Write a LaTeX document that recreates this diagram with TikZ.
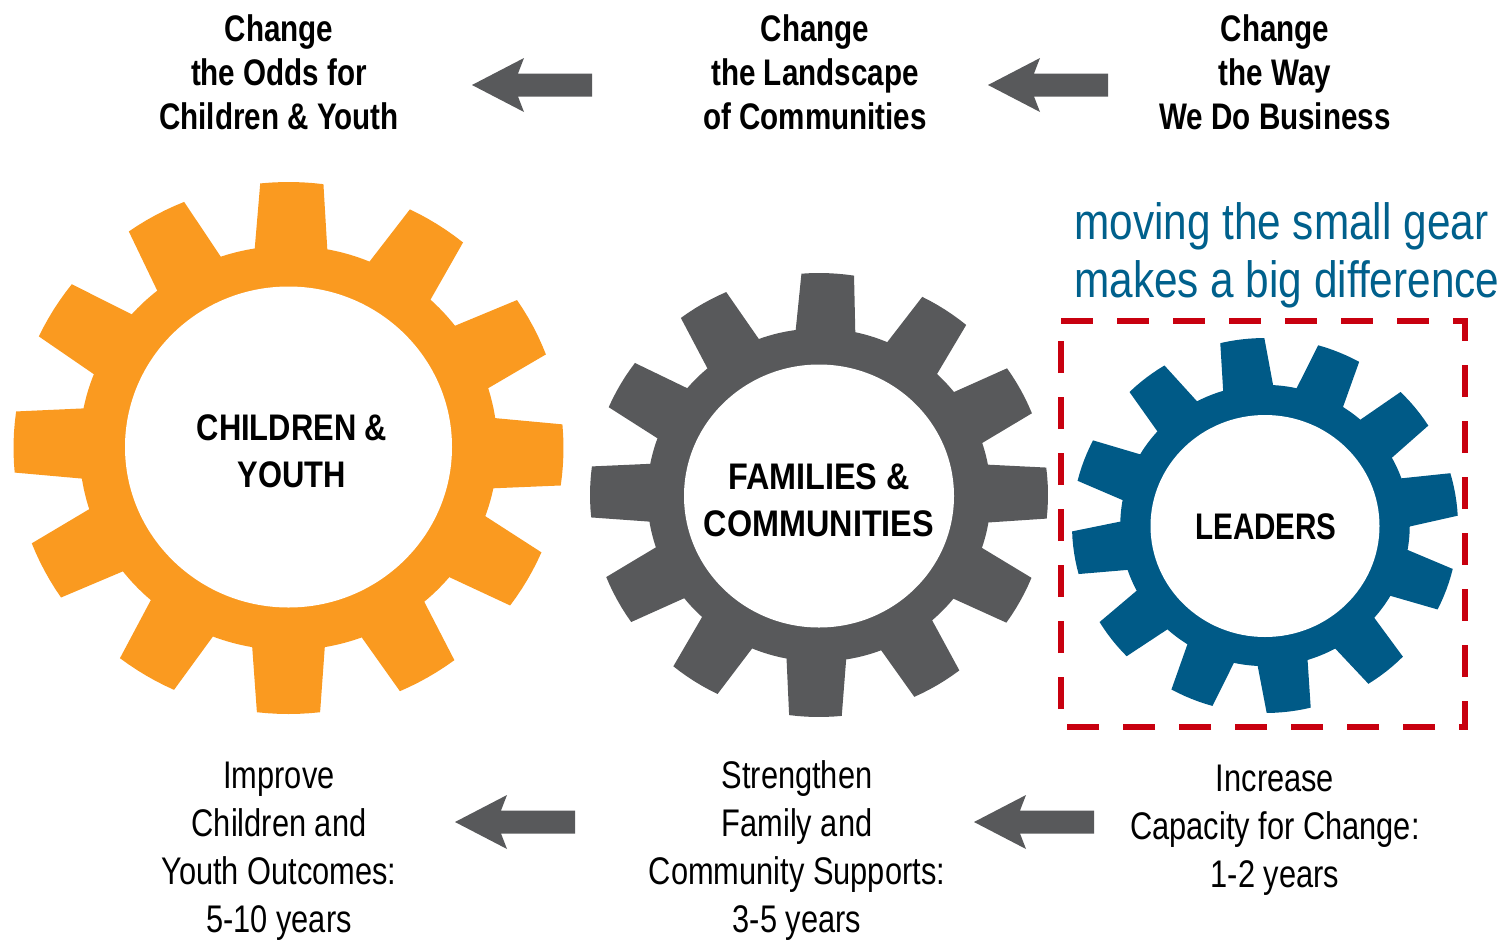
\documentclass[tikz,border=0pt]{standalone}
\usepackage{fontspec}
\usetikzlibrary{shapes.geometric,calc}
\setmainfont{Liberation Sans}
\newfontfamily\condfont[FakeStretch=0.8]{Liberation Sans}
\newfontfamily\condfontb[FakeStretch=0.835]{Liberation Sans}
\newfontfamily\condfontc[FakeStretch=0.875]{Liberation Sans}
\newfontfamily\narrowfont[FakeStretch=0.83]{Liberation Sans}
\definecolor{gearorange}{HTML}{FA9A20}
\definecolor{geargray}{HTML}{58595B}
\definecolor{gearblue}{HTML}{005A87}
\definecolor{noteblue}{HTML}{00608C}
\definecolor{boxred}{HTML}{C8000F}
\tikzset{
  holenode/.style={ellipse,fill=white,inner sep=0pt},
  hublabel/.style={align=center,text=black,inner sep=0pt},
  toplabel/.style={align=center,text=black,inner sep=0pt,
    font=\condfont\bfseries\fontsize{37}{44}\selectfont},
  botlabel/.style={align=center,text=black,inner sep=0pt,
    font=\condfont\fontsize{38.5}{48}\selectfont},
  notelabel/.style={align=left,text=noteblue,inner sep=0pt,anchor=north west,
    font=\narrowfont\fontsize{51}{58}\selectfont},
  blockarrow/.style={fill=geargray},
  dashbox/.style={draw=boxred,line width=6.3pt,dash pattern=on 32pt off 24pt}
}
% #1 cx, #2 cy, #3 rx, #4 ry, #5 root ratio, #6 colour, #7 clockwise tooth angles from the top
\newcommand{\gearfill}[7]{%
  \fill[#6] (#1,#2) ellipse [x radius=#3*#5, y radius=#4*#5];
  \foreach \c in {#7}{
    \pgfmathsetmacro{\th}{90-\c}
    \pgfmathsetmacro{\inner}{#5-0.04}
    \fill[#6] ({#1+#3*\inner*cos(\th-10)},{#2-#4*\inner*sin(\th-10)})
      -- ({#1+#3*#5*cos(\th-10)},{#2-#4*#5*sin(\th-10)})
      \foreach \d in {-6.6,-4.4,-2.2,0,2.2,4.4,6.6}{
        -- ({#1+#3*cos(\th+\d)},{#2-#4*sin(\th+\d)})
      }
      -- ({#1+#3*#5*cos(\th+10)},{#2-#4*#5*sin(\th+10)})
      -- ({#1+#3*\inner*cos(\th+10)},{#2-#4*\inner*sin(\th+10)}) -- cycle;
  }
}
\newcommand{\leftarrowshape}[2]{%
  \fill[blockarrow] (#1)
    -- ($(#1)+(52,-27)$) -- ($(#1)+(46,-11.5)$) -- ($(#2)+(0,-11.5)$)
    -- ($(#2)+(0,11.5)$) -- ($(#1)+(46,11.5)$) -- ($(#1)+(52,27)$) -- cycle;
}
\begin{document}
\begin{tikzpicture}[x=1pt,y=-1pt]
\useasboundingbox (0,0) rectangle (1499,940);

\gearfill{288.5}{448}{275}{266}{0.76}{gearorange}{0.7,32.8,62.8,91.5,119.7,149.5,180,211.2,242.4,271.3,301.4,331.1}
\gearfill{819}{495}{229}{222}{0.75}{geargray}{2.2,33.4,61.8,89.5,118.5,148.8,180.9,212.9,241.7,270.8,299.9,329.5}
\gearfill{1265}{525.5}{193}{187.5}{0.75}{gearblue}{353.2,22.6,51.2,80.4,110,141,172.9,202.4,232.4,261.6,290.4,322}

\node[holenode,minimum width=327pt,minimum height=321pt] (childrenhole) at (288.5,447) {};
\node[holenode,minimum width=270pt,minimum height=263pt] (familieshole) at (819,496) {};
\node[holenode,minimum width=229pt,minimum height=222pt] (leadershole) at (1265,526) {};

\node[hublabel,font=\condfontb\bfseries\fontsize{37}{47}\selectfont] (children) at (292,451)
  {CHILDREN \&\\YOUTH};
\node[hublabel,font=\condfontc\bfseries\fontsize{37}{47}\selectfont] (families) at (819,500)
  {FAMILIES \&\\COMMUNITIES};
\node[hublabel,font=\condfont\bfseries\fontsize{37}{47}\selectfont] (leaders) at (1266,527)
  {LEADERS};

\draw[dashbox] (1061,321) -- (1465,321) -- (1465,727) -- (1061,727) -- cycle;

\node[notelabel] (note) at (1074,202) {moving the small gear\\makes a big difference};

\node[toplabel] (t1) at (279,72) {Change\\the Odds for\\Children \& Youth};
\node[toplabel] (t2) at (815,72) {Change\\the Landscape\\of Communities};
\node[toplabel] (t3) at (1275,72) {Change\\the Way\\We Do Business};

\node[botlabel] (b1) at (279,851.5) {Improve\\Children and\\Youth Outcomes:\\5-10 years};
\node[botlabel] (b2) at (797,850.5) {Strengthen\\Family and\\Community Supports:\\3-5 years};
\node[botlabel] (b3) at (1275,830) {Increase\\Capacity for Change:\\1-2 years};

\coordinate (a1tip) at (472,85);  \coordinate (a1end) at (592,85);
\coordinate (a2tip) at (988,85);  \coordinate (a2end) at (1108,85);
\coordinate (a3tip) at (455,822); \coordinate (a3end) at (575,822);
\coordinate (a4tip) at (974,822); \coordinate (a4end) at (1094,822);
\leftarrowshape{a1tip}{a1end}
\leftarrowshape{a2tip}{a2end}
\leftarrowshape{a3tip}{a3end}
\leftarrowshape{a4tip}{a4end}
\end{tikzpicture}
\end{document}
